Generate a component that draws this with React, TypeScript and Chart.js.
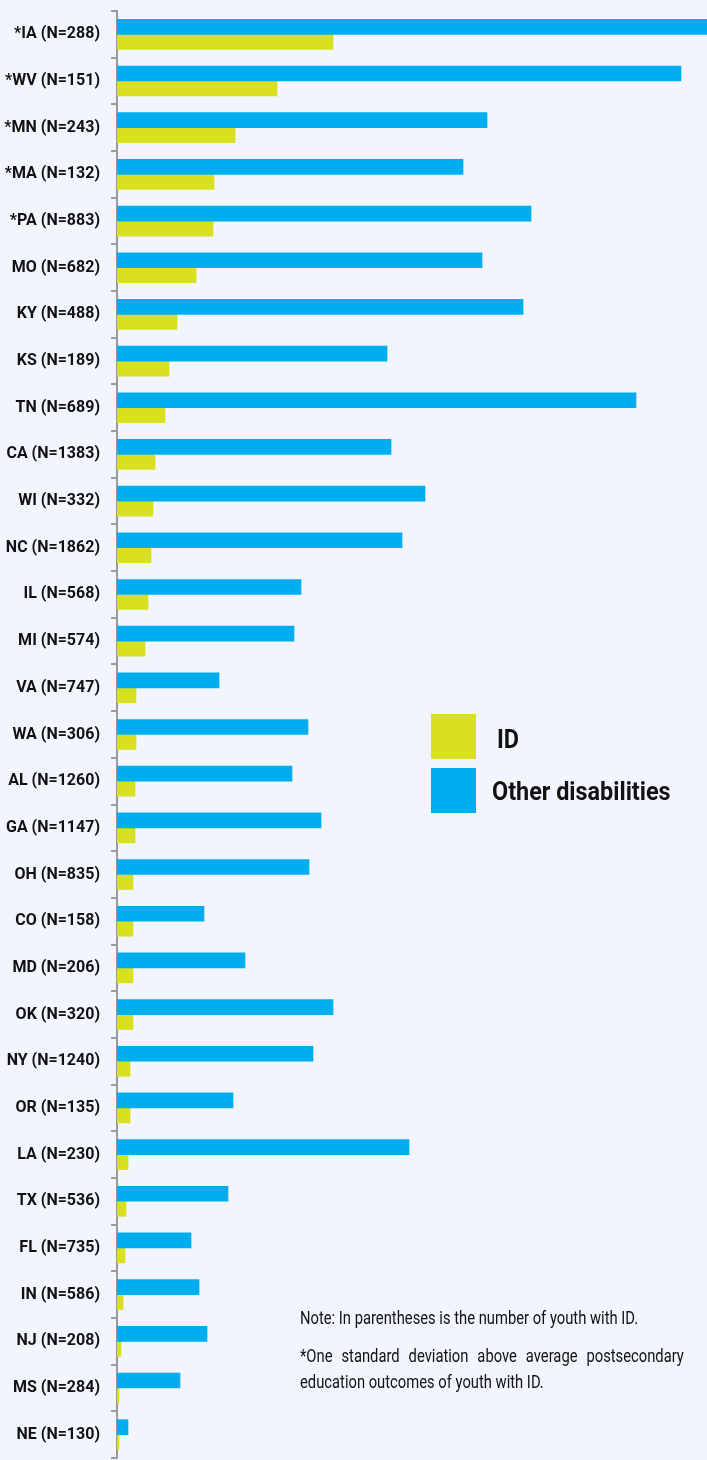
import React, { useEffect, useRef } from "react";
import { Chart, registerables } from "chart.js";

Chart.register(...registerables);

const categories = [
  "*IA (N=288)", "*WV (N=151)", "*MN (N=243)", "*MA (N=132)", "*PA (N=883)",
  "MO (N=682)", "KY (N=488)", "KS (N=189)", "TN (N=689)", "CA (N=1383)",
  "WI (N=332)", "NC (N=1862)", "IL (N=568)", "MI (N=574)", "VA (N=747)",
  "WA (N=306)", "AL (N=1260)", "GA (N=1147)", "OH (N=835)", "CO (N=158)",
  "MD (N=206)", "OK (N=320)", "NY (N=1240)", "OR (N=135)", "LA (N=230)",
  "TX (N=536)", "FL (N=735)", "IN (N=586)", "NJ (N=208)", "MS (N=284)",
  "NE (N=130)",
];

const idValues = [
  21.6, 16.0, 11.8, 9.7, 9.6, 7.9, 6.0, 5.2, 4.8, 3.8,
  3.6, 3.4, 3.1, 2.8, 1.9, 1.9, 1.8, 1.8, 1.6, 1.6,
  1.6, 1.6, 1.3, 1.3, 1.1, 0.9, 0.8, 0.6, 0.4, 0.2,
  0.2,
];

const otherValues = [
  59.0, 56.4, 37.0, 34.6, 41.4, 36.5, 40.6, 27.0, 51.9, 27.4,
  30.8, 28.5, 18.4, 17.7, 10.2, 19.1, 17.5, 20.4, 19.2, 8.7,
  12.8, 21.6, 19.6, 11.6, 29.2, 11.1, 7.4, 8.2, 9.0, 6.3,
  1.1,
];

const seriesNames = ["ID", "Other disabilities"];
const noteLine = "Note: In parentheses is the number of youth with ID.";
const footnote = "*One standard deviation above average postsecondary education outcomes of youth with ID.";
const xMax = 59;

const BG = "#f2f5fd";
const BLUE = "#00aeef";
const YELLOW = "#d8e021";
const GRAY = "#9a9a9a";
const FONT = "Roboto, 'Liberation Sans', sans-serif";

export default function App() {
  const canvasRef = useRef<HTMLCanvasElement | null>(null);

  useEffect(() => {
    document.body.style.margin = "0";
    document.body.style.background = BG;
    const canvas = canvasRef.current;
    if (!canvas) return;
    const chart = new Chart(canvas, {
      type: "bar",
      data: {
        labels: categories,
        datasets: [
          {
            label: seriesNames[1],
            data: otherValues,
            backgroundColor: BLUE,
            borderWidth: 0,
            barThickness: 15,
          },
          {
            label: seriesNames[0],
            data: idValues,
            backgroundColor: YELLOW,
            borderWidth: 0,
            barThickness: 15,
          },
        ],
      },
      options: {
        indexAxis: "y",
        animation: false,
        responsive: false,
        layout: { padding: { top: 11, bottom: 2, left: 0, right: 0 } },
        plugins: {
          legend: { display: false },
          tooltip: { enabled: false },
        },
        scales: {
          x: { display: false, min: 0, max: xMax },
          y: {
            afterFit: (s: any) => {
              s.width = 117;
              s.paddingTop = 0;
              s.paddingBottom = 0;
            },
            grid: {
              drawOnChartArea: false,
              drawTicks: true,
              tickLength: 6,
              color: GRAY,
              lineWidth: 2,
              offset: true,
            },
            border: { display: true, color: GRAY, width: 2 },
            ticks: {
              padding: 11,
              color: "#111",
              autoSkip: false,
              font: { family: FONT, size: 16, weight: "bold" },
            },
          },
        },
      },
    });
    return () => chart.destroy();
  }, []);

  const legendText: React.CSSProperties = {
    position: "absolute",
    fontFamily: FONT,
    fontWeight: "bold",
    fontSize: 26,
    color: "#111",
    lineHeight: "30px",
    whiteSpace: "nowrap",
    transform: "scaleX(0.9)",
    transformOrigin: "left center",
  };

  return (
    <div style={{ position: "relative", width: 707, height: 1460, background: BG, overflow: "hidden" }}>
      <canvas ref={canvasRef} width={707} height={1460} style={{ display: "block" }} />
      <div style={{ position: "absolute", left: 431, top: 714, width: 45, height: 45, background: YELLOW }} />
      <div style={{ position: "absolute", left: 431, top: 768, width: 45, height: 45, background: BLUE }} />
      <div style={{ ...legendText, left: 497, top: 724 }}>{seriesNames[0]}</div>
      <div style={{ ...legendText, left: 492, top: 776 }}>{seriesNames[1]}</div>
      <div
        style={{
          position: "absolute",
          left: 300,
          top: 1305,
          width: 494,
          fontFamily: FONT,
          fontSize: 19,
          lineHeight: "26px",
          color: "#111",
          transform: "scaleX(0.777)",
          transformOrigin: "left top",
        }}
      >
        <div style={{ whiteSpace: "nowrap" }}>{noteLine}</div>
        <div style={{ marginTop: 12, textAlign: "justify" }}>{footnote}</div>
      </div>
    </div>
  );
}
